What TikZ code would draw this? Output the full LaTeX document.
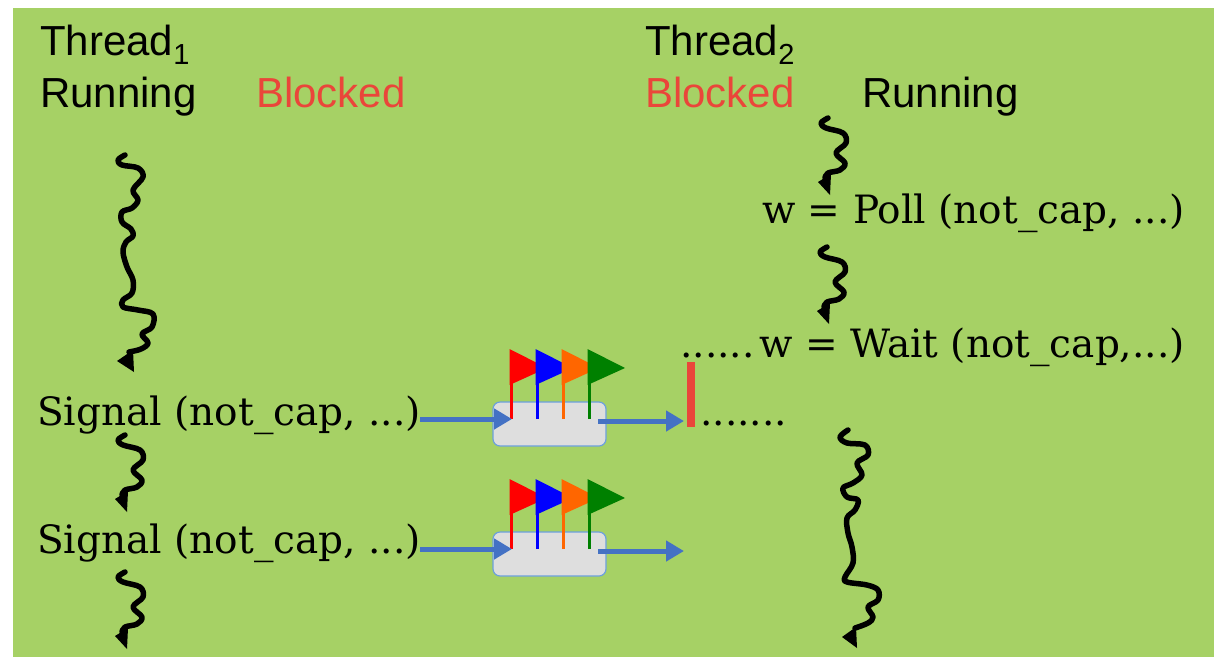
\documentclass[tikz,border=0pt]{standalone}
\usepackage{fontspec}
\newfontfamily\sansf{Liberation Sans}
\newfontfamily\codef{DejaVu Serif}
\usetikzlibrary{arrows.meta}
\definecolor{bg}{RGB}{166,209,101}
\definecolor{redtxt}{RGB}{234,70,58}
\definecolor{arrblue}{RGB}{68,114,196}
\definecolor{boxedge}{RGB}{108,160,220}
\definecolor{boxfill}{RGB}{222,222,222}
\definecolor{flagred}{RGB}{255,0,0}
\definecolor{flagblue}{RGB}{0,0,255}
\definecolor{flagorange}{RGB}{255,102,0}
\definecolor{flaggreen}{RGB}{0,128,0}
\tikzset{
  lbl/.style={inner sep=0pt, anchor=base west, font=\sansf\fontsize{42}{42}\selectfont},
  code/.style={inner sep=0pt, anchor=base west, font=\codef\fontsize{39}{39}\selectfont},
  squig/.style={line width=5.5pt, line cap=round, line join=round},
  blarrow/.style={draw=arrblue, line width=5pt, -{Triangle[length=18pt,width=20pt]}},
  queue/.style={draw=boxedge, line width=1.2pt, fill=boxfill, rounded corners=7pt},
}
\newcommand{\flagset}[2]{%
  \foreach \dx/\c in {0/flagred,26/flagblue,52/flagorange,78/flaggreen}{
    \draw[\c, line width=3pt] ({#1+\dx},{#2}) -- ({#1+\dx},{#2-36});
    \fill[\c] ({#1+\dx-1.5},{#2-34}) -- ({#1+\dx-1.5},{#2-70}) -- ({#1+\dx+36},{#2-51}) -- cycle;
  }%
}
\begin{document}
\begin{tikzpicture}[x=1pt,y=-1pt]
\useasboundingbox (0,0) rectangle (1214,657);
\fill[bg] (13,8) rectangle (1214,657);

% headers
\node[lbl] (t1) at (40,55) {Thread\raisebox{-9pt}{\fontsize{29}{29}\selectfont 1}};
\node[lbl] (r1) at (40,107) {Running};
\node[lbl, text=redtxt] (b1) at (256,107) {Blocked};
\node[lbl] (t2) at (645,55) {Thread\raisebox{-9pt}{\fontsize{29}{29}\selectfont 2}};
\node[lbl, text=redtxt] (b2) at (645,107) {Blocked};
\node[lbl] (r2) at (862,107) {Running};

% code lines
\node[code] (poll) at (762,223) {w = Poll (not\_cap, ...)};
\node[code] (wait) at (680,357) {......\hspace{5pt}w = Wait (not\_cap,...)};
\node[code] (sig1) at (37,425) {Signal (not\_cap, ...)};
\node[code] (sig2) at (37,553) {Signal (not\_cap, ...)};
\node[code] (dots) at (700,425) {.......};

% queue boxes
\node[queue, minimum width=113pt, minimum height=44pt, inner sep=0pt] (q1) at (549.5,424) {};
\node[queue, minimum width=113pt, minimum height=44pt, inner sep=0pt] (q2) at (549.5,554) {};
\flagset{511}{419}
\flagset{511}{549}

% blue arrows
\coordinate (a1s) at (420,419); \coordinate (a1e) at (512,419);
\coordinate (a2s) at (598,421); \coordinate (a2e) at (684,421);
\coordinate (a3s) at (420,549); \coordinate (a3e) at (512,549);
\coordinate (a4s) at (598,551); \coordinate (a4e) at (684,551);
\draw[blarrow] (a1s) -- (a1e);
\draw[blarrow] (a2s) -- (a2e);
\draw[blarrow] (a3s) -- (a3e);
\draw[blarrow] (a4s) -- (a4e);

% red bar
\fill[redtxt] (687,362) rectangle (695,427);

% long squiggle thread 1
\draw[squig] plot[smooth, tension=0.6] coordinates {(125,155) (118,160) (122,165) (138,168) (143,177) (133,190) (138,200) (132,208) (122,212) (122,222) (131,229) (133,236) (126,242) (123,252) (127,267) (133,280) (132,293) (123,300) (123,307) (138,310) (153,314) (152,327) (142,334) (148,343) (141,349) (129,352)};
\fill[black] (117,361) -- (133,350) -- (134,372) -- cycle;

% small squiggles
\newcommand{\smallsq}[2]{%
  \begin{scope}[shift={(#1,#2)}]
  \draw[squig] plot[smooth, tension=0.6] coordinates {(0,0) (-7,5) (-2,10) (15,15) (18,25) (8,35) (17,45) (12,52) (0,55) (-3,60)};
  \fill[black] (-10,64) -- (3,56) -- (2,77) -- cycle;
  \end{scope}}
\smallsq{125}{435}
\smallsq{125}{572}
\smallsq{828}{118}
\smallsq{827}{247}

% long squiggle thread 2
\draw[squig] plot[smooth, tension=0.6] coordinates {(848,430) (840,437) (847,443) (865,445) (868,455) (857,463) (862,475) (853,483) (843,488) (847,497) (858,500) (855,510) (847,518) (848,533) (852,547) (853,563) (845,577) (847,582) (867,585) (878,590) (878,600) (868,607) (873,617) (868,623) (855,628)};
\fill[black] (842,637) -- (856,627) -- (857,648) -- cycle;
\end{tikzpicture}
\end{document}
